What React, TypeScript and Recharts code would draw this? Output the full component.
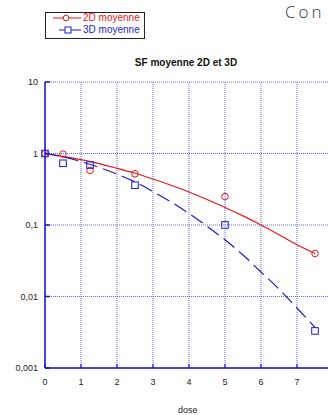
import { ComposedChart, Line, Scatter, XAxis, YAxis, CartesianGrid, ReferenceLine } from 'recharts';

// fitted curves, read at every half gray
const fitDose = [0, 0.5, 1, 1.5, 2, 2.5, 3, 3.5, 4, 4.5, 5, 5.5, 6, 6.5, 7, 7.5];
const fit2D = [1, 0.91, 0.82, 0.72, 0.62, 0.53, 0.44, 0.36, 0.29, 0.227, 0.176, 0.134, 0.1, 0.073, 0.053, 0.04];
const fit3D = [1, 0.9, 0.77, 0.64, 0.515, 0.4, 0.294, 0.21, 0.145, 0.096, 0.062, 0.038, 0.022, 0.0127, 0.0069, 0.0037];

// measured points
const pointDose = [0, 0.5, 1.25, 2.5, 5, 7.5];
const sf2D = [1, 0.98, 0.58, 0.52, 0.25, 0.04];
const sf3D = [1, 0.73, 0.69, 0.36, 0.1, 0.0033];

const xTicks = [0, 1, 2, 3, 4, 5, 6, 7];
const yTicks = [0.001, 0.01, 0.1, 1, 10];

const RED = '#e81818';
const BLUE = '#1c1cd0';
const AXIS = '#1414d8';
const GRID = '#6464ee';
const FONT = '"Liberation Sans", Arial, sans-serif';

const fit2DData = fitDose.map((dose, i) => ({ dose, sf: fit2D[i] }));
const fit3DData = fitDose.map((dose, i) => ({ dose, sf: fit3D[i] }));
const pts2D = pointDose.map((dose, i) => ({ dose, sf: sf2D[i] }));
const pts3D = pointDose.map((dose, i) => ({ dose, sf: sf3D[i] }));

const Circle = (p: any) => <circle cx={p.cx} cy={p.cy} r={3.3} fill="none" stroke={RED} strokeWidth={1} />;
const Square = (p: any) => <rect x={p.cx - 3.3} y={p.cy - 3.3} width={6.6} height={6.6} fill="none" stroke={BLUE} strokeWidth={1} />;

const fmt = (v: number) => String(v).replace('.', ',');

export default function App() {
  return (
    <div style={{ position: 'absolute', left: 0, top: 0, width: 328, height: 415, overflow: 'hidden', background: '#fff', fontFamily: FONT }}>
      <div style={{ position: 'absolute', left: 285, top: 0, fontSize: 17, color: '#333', letterSpacing: 3, whiteSpace: 'nowrap', fontFamily: '"Open Sans", sans-serif', fontWeight: 300 }}>
        Con
      </div>

      <div style={{ position: 'absolute', left: 45, top: 12, width: 98, height: 25, border: '1px solid #222', background: '#fff' }}>
        <svg width={30} height={25} style={{ position: 'absolute', left: 6, top: 0 }}>
          <line x1={1} y1={5} x2={29} y2={5} stroke={RED} strokeWidth={1} />
          <circle cx={14} cy={5} r={2.8} fill="#fff" stroke={RED} />
          <line x1={7} y1={17} x2={29} y2={17} stroke={BLUE} strokeWidth={1} />
          <rect x={13} y={14} width={6} height={6} fill="#fff" stroke={BLUE} />
        </svg>
        <div style={{ position: 'absolute', left: 37, top: -1, fontSize: 10, lineHeight: '12px', color: RED }}>2D moyenne</div>
        <div style={{ position: 'absolute', left: 37, top: 11, fontSize: 10, lineHeight: '12px', color: BLUE }}>3D moyenne</div>
      </div>

      <div style={{ position: 'absolute', left: 0, width: 372, top: 57, textAlign: 'center', fontSize: 10, fontWeight: 'bold', color: '#111' }}>
        SF moyenne 2D et 3D
      </div>

      <div style={{ position: 'absolute', left: 0, top: 0 }}>
        <ComposedChart width={340} height={415} margin={{ top: 82, right: 7, bottom: 17, left: 0 }}>
          <CartesianGrid xAxisId="b" stroke={GRID} strokeDasharray="1 1" horizontal={false} />
          {yTicks.map((v) => (
            <ReferenceLine key={v} xAxisId="b" y={v} stroke={GRID} strokeDasharray="1 1" />
          ))}
          <XAxis
            xAxisId="b"
            dataKey="dose"
            type="number"
            domain={[0, 8]}
            ticks={xTicks}
            height={30}
            axisLine={{ stroke: AXIS, strokeWidth: 1.5 }}
            tickLine={{ stroke: AXIS, strokeWidth: 1.2 }}
            tickSize={-4}
            tickMargin={15}
            tick={{ fontSize: 9, fill: '#222', fontFamily: FONT }}
          />
          <XAxis
            xAxisId="t"
            orientation="top"
            dataKey="dose"
            type="number"
            domain={[0, 8]}
            ticks={xTicks}
            height={0}
            axisLine={{ stroke: AXIS, strokeWidth: 1.5 }}
            tickLine={{ stroke: AXIS, strokeWidth: 1.2 }}
            tickSize={-4}
            tick={false}
          />
          <YAxis
            dataKey="sf"
            scale="log"
            domain={[0.001, 10]}
            ticks={yTicks}
            allowDataOverflow
            width={45}
            axisLine={{ stroke: AXIS, strokeWidth: 1.5 }}
            tickLine={{ stroke: AXIS, strokeWidth: 1.5 }}
            tickSize={-5}
            tickMargin={12}
            tickFormatter={fmt}
            tick={{ fontSize: 9, fill: '#222', fontFamily: FONT }}
          />
          <Line xAxisId="b" data={fit2DData} dataKey="sf" type="monotone" stroke={RED} strokeWidth={1.2} dot={false} isAnimationActive={false} />
          <Line xAxisId="b" data={fit3DData} dataKey="sf" type="monotone" stroke={BLUE} strokeWidth={1.2} strokeDasharray="14 6" dot={false} isAnimationActive={false} />
          <Scatter xAxisId="b" data={pts2D} dataKey="sf" shape={Circle} isAnimationActive={false} />
          <Scatter xAxisId="b" data={pts3D} dataKey="sf" shape={Square} isAnimationActive={false} />
        </ComposedChart>
      </div>

      <div style={{ position: 'absolute', left: 178, top: 405, fontSize: 9, color: '#222' }}>dose</div>
    </div>
  );
}
